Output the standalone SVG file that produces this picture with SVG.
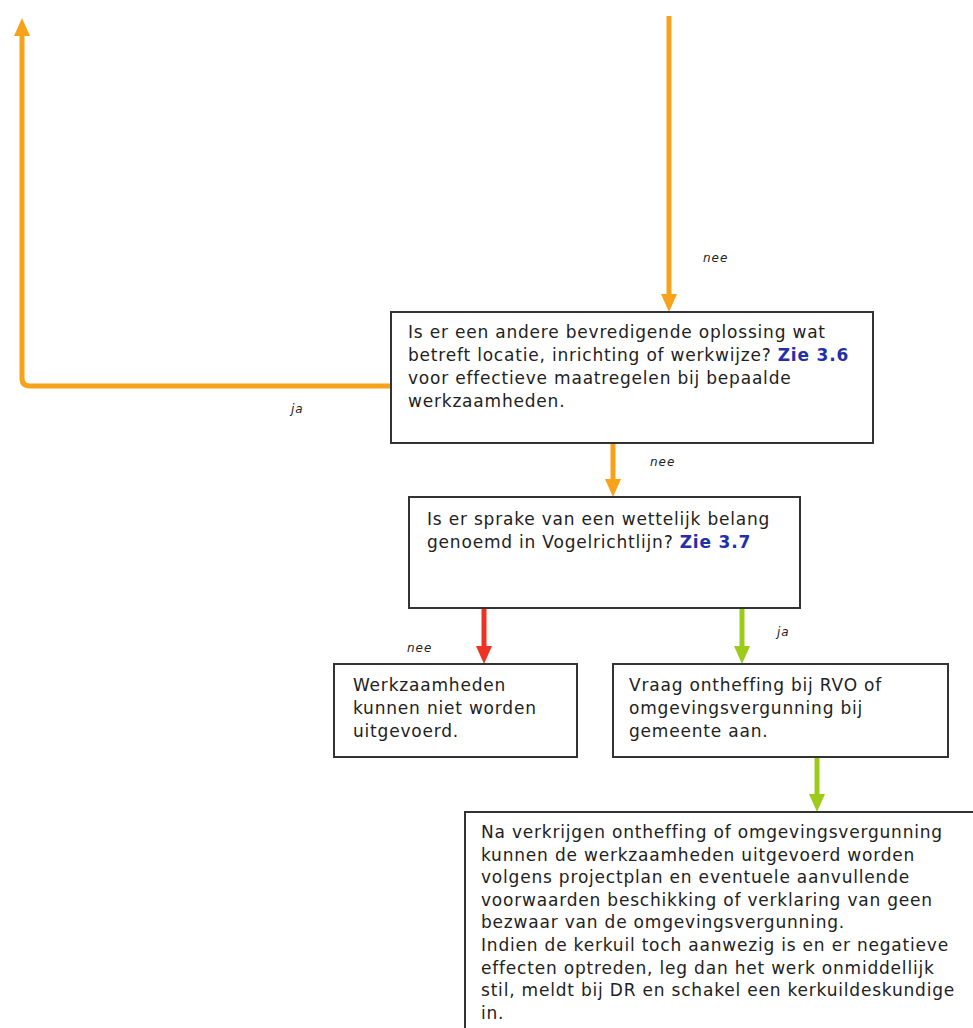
<svg xmlns="http://www.w3.org/2000/svg" width="973" height="1028" viewBox="0 0 973 1028">
<style>
.box{fill:#fff;stroke:#333;stroke-width:2}
.t{font-family:"DejaVu Sans",Verdana,sans-serif;font-size:17px;letter-spacing:0.8px;fill:#222}
.z{font-weight:bold;fill:#2430A8}
.lbl{font-family:"DejaVu Sans",Verdana,sans-serif;font-size:12px;font-style:italic;letter-spacing:1px;fill:#222}
.o{fill:none;stroke:#F7A21B;stroke-width:5}
.r{fill:none;stroke:#EE3322;stroke-width:5}
.g{fill:none;stroke:#9CCB1B;stroke-width:5}
</style>
<defs>
<marker id="ao" viewBox="0 -8 18 16" markerWidth="18" markerHeight="16" refX="0" refY="0" orient="auto" markerUnits="userSpaceOnUse"><path d="M0,-8 L18,0 L0,8 z" fill="#F7A21B"/></marker>
<marker id="ar" viewBox="0 -8 18 16" markerWidth="18" markerHeight="16" refX="0" refY="0" orient="auto" markerUnits="userSpaceOnUse"><path d="M0,-8 L18,0 L0,8 z" fill="#EE3322"/></marker>
<marker id="ag" viewBox="0 -8 18 16" markerWidth="18" markerHeight="16" refX="0" refY="0" orient="auto" markerUnits="userSpaceOnUse"><path d="M0,-8 L18,0 L0,8 z" fill="#9CCB1B"/></marker>
</defs>
<rect width="973" height="1028" fill="#fff"/>

<g id="connectors">
<path class="o" d="M669,16 V294" marker-end="url(#ao)"/>
<path class="o" d="M391,386 H30 Q22,386 22,378 V36" marker-end="url(#ao)"/>
<path class="o" d="M613,443 V479" marker-end="url(#ao)"/>
<path class="r" d="M484,609 V646" marker-end="url(#ar)"/>
<path class="g" d="M742,609 V646" marker-end="url(#ag)"/>
<path class="g" d="M817,758 V794" marker-end="url(#ag)"/>
<text class="lbl" x="703" y="262">nee</text>
<text class="lbl" x="291" y="413">ja</text>
<text class="lbl" x="650" y="466">nee</text>
<text class="lbl" x="777" y="636">ja</text>
<text class="lbl" x="407" y="652">nee</text>
</g>

<g id="box1">
<rect class="box" x="391" y="312" width="482" height="131"/>
<text class="t" x="408" y="338">Is er een andere bevredigende oplossing wat</text>
<text class="t" x="408" y="361">betreft locatie, inrichting of werkwijze? <tspan class="z">Zie 3.6</tspan></text>
<text class="t" x="408" y="384">voor effectieve maatregelen bij bepaalde</text>
<text class="t" x="408" y="407">werkzaamheden.</text>
</g>

<g id="box2">
<rect class="box" x="409" y="497" width="391" height="111"/>
<text class="t" x="427" y="525">Is er sprake van een wettelijk belang</text>
<text class="t" x="427" y="548">genoemd in Vogelrichtlijn? <tspan class="z">Zie 3.7</tspan></text>
</g>

<g id="box3">
<rect class="box" x="334" y="664" width="243" height="93"/>
<text class="t" x="353" y="691">Werkzaamheden</text>
<text class="t" x="353" y="714">kunnen niet worden</text>
<text class="t" x="353" y="737">uitgevoerd.</text>
</g>

<g id="box4">
<rect class="box" x="613" y="664" width="335" height="93"/>
<text class="t" x="629" y="691">Vraag ontheffing bij RVO of</text>
<text class="t" x="629" y="714">omgevingsvergunning bij</text>
<text class="t" x="629" y="737">gemeente aan.</text>
</g>

<g id="box5">
<rect class="box" x="465" y="812" width="530" height="240"/>
<text class="t" x="481" y="838">Na verkrijgen ontheffing of omgevingsvergunning</text>
<text class="t" x="481" y="860.6">kunnen de werkzaamheden uitgevoerd worden</text>
<text class="t" x="481" y="883.2">volgens projectplan en eventuele aanvullende</text>
<text class="t" x="481" y="905.8">voorwaarden beschikking of verklaring van geen</text>
<text class="t" x="481" y="928.4">bezwaar van de omgevingsvergunning.</text>
<text class="t" x="481" y="951">Indien de kerkuil toch aanwezig is en er negatieve</text>
<text class="t" x="481" y="973.6">effecten optreden, leg dan het werk onmiddellijk</text>
<text class="t" x="481" y="996.2">stil, meldt bij DR en schakel een kerkuildeskundige</text>
<text class="t" x="481" y="1018.8">in.</text>
</g>
</svg>
